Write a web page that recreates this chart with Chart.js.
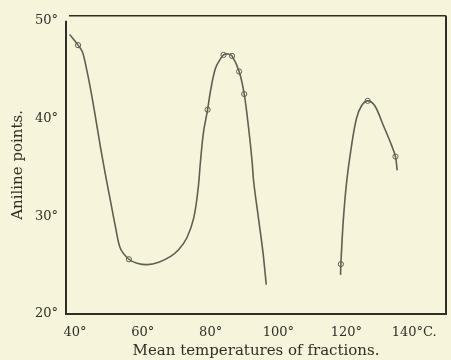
<!DOCTYPE html>
<html>
<head>
<meta charset="utf-8">
<script src="https://cdn.jsdelivr.net/npm/chart.js@4.4.1/dist/chart.umd.min.js"></script>
<style>
  html, body { margin: 0; padding: 0; background: #f6f4da; }
  #wrap { width: 451px; height: 360px; }
</style>
</head>
<body>
<div id="wrap"><canvas id="chart" width="451" height="360"></canvas></div>
<script>
// values (mean temperature °C, aniline point °)
const curve1Temps = [38.4, 40.9, 42.2, 43.2, 44.6, 46.1, 47.6, 49.0, 50.5, 52.0, 53.4, 55.9, 58.3, 61.3, 64.7, 68.2, 70.6, 73.0, 75.0, 76.3, 77.0, 77.9, 79.1, 79.9, 81.4, 82.9, 83.8, 85.1, 86.3, 88.4, 89.9, 91.2, 92.2, 92.7, 94.1, 95.4, 96.4];
const curve1Points = [48.6, 47.5, 46.8, 45.4, 43.0, 40.0, 36.9, 34.2, 31.5, 28.8, 26.7, 25.6, 25.2, 25.05, 25.3, 25.9, 26.6, 27.8, 29.8, 32.8, 35.6, 38.6, 40.9, 42.7, 45.1, 46.1, 46.5, 46.6, 46.4, 44.8, 42.5, 39.0, 35.7, 33.5, 29.8, 26.4, 23.0];

const curve2Temps = [118.3, 118.4, 119.1, 120.1, 121.4, 123.0, 124.5, 126.3, 128.4, 130.9, 133.3, 134.5, 135.0];
const curve2Points = [24.0, 25.1, 29.5, 33.5, 36.9, 40.0, 41.3, 41.8, 41.3, 39.3, 37.3, 36.1, 34.7];

// observed fractions (small circles)
const obsTemps = [40.9, 55.9, 79.1, 83.8, 86.3, 88.4, 89.9, 118.4, 126.3, 134.5];
const obsPoints = [47.5, 25.6, 40.9, 46.5, 46.4, 44.8, 42.5, 25.1, 41.8, 36.1];

const xTicks = [40, 60, 80, 100, 120, 140];
const yTicks = [20, 30, 40, 50];

const ink = "#2f2f27";
const lineInk = "#5f5f52";
const paper = "#f6f4da";
const serif = "'DejaVu Serif', 'Liberation Serif', serif";

function toXY(xs, ys) {
  return xs.map((x, i) => ({ x: x, y: ys[i] }));
}

// paper background + framed plot area
const framePlugin = {
  id: "frame",
  beforeDraw(chart) {
    const ctx = chart.ctx;
    ctx.save();
    ctx.fillStyle = paper;
    ctx.fillRect(0, 0, chart.width, chart.height);
    ctx.restore();
  },
  afterDraw(chart) {
    const { left, top, right, bottom } = chart.chartArea;
    const ctx = chart.ctx;
    ctx.save();
    ctx.strokeStyle = ink;
    ctx.lineWidth = 2;
    ctx.beginPath();
    ctx.moveTo(left, top + 5);
    ctx.lineTo(left, bottom);
    ctx.lineTo(right, bottom);
    ctx.lineTo(right, top);
    ctx.stroke();
    ctx.lineWidth = 1.5;
    ctx.beginPath();
    ctx.moveTo(left + 3, top);
    ctx.lineTo(right, top);
    ctx.stroke();
    ctx.restore();
  }
};

const lineStyle = {
  borderColor: lineInk,
  borderWidth: 1.6,
  pointRadius: 0,
  tension: 0.35,
  fill: false
};

new Chart(document.getElementById("chart").getContext("2d"), {
  type: "scatter",
  data: {
    datasets: [
      Object.assign({ data: toXY(curve1Temps, curve1Points), showLine: true }, lineStyle),
      Object.assign({ data: toXY(curve2Temps, curve2Points), showLine: true }, lineStyle),
      {
        data: toXY(obsTemps, obsPoints),
        showLine: false,
        pointRadius: 2.6,
        pointBorderWidth: 1,
        pointBorderColor: lineInk,
        pointBackgroundColor: paper
      }
    ]
  },
  options: {
    responsive: false,
    animation: false,
    events: [],
    layout: { padding: { left: 0, right: 5, top: 15, bottom: 0 } },
    plugins: { legend: { display: false }, tooltip: { enabled: false } },
    scales: {
      x: {
        type: "linear",
        min: 37.35,
        max: 149.4,
        grid: { display: false, drawTicks: false },
        border: { display: false },
        afterFit(scale) { scale.height = 46; },
        afterBuildTicks(scale) { scale.ticks = xTicks.map(v => ({ value: v })); },
        ticks: {
          autoSkip: false,
          maxRotation: 0,
          padding: 11,
          color: ink,
          font: { family: serif, size: 13 },
          callback: v => v === 140 ? "140°C." : v + "°"
        },
        title: {
          display: true,
          text: "Mean temperatures of fractions.",
          color: ink,
          font: { family: serif, size: 15 },
          padding: { top: 0, bottom: 0 }
        }
      },
      y: {
        type: "linear",
        min: 20,
        max: 50.5,
        grid: { display: false, drawTicks: false },
        border: { display: false },
        afterFit(scale) { scale.width = 66; },
        afterBuildTicks(scale) { scale.ticks = yTicks.map(v => ({ value: v })); },
        ticks: {
          padding: 8,
          color: ink,
          font: { family: serif, size: 13 },
          callback: v => v + "°"
        },
        title: {
          display: true,
          text: "Aniline points.",
          color: ink,
          font: { family: serif, size: 15 },
          padding: { top: 9, bottom: 0 }
        }
      }
    }
  },
  plugins: [framePlugin]
});
</script>
</body>
</html>
